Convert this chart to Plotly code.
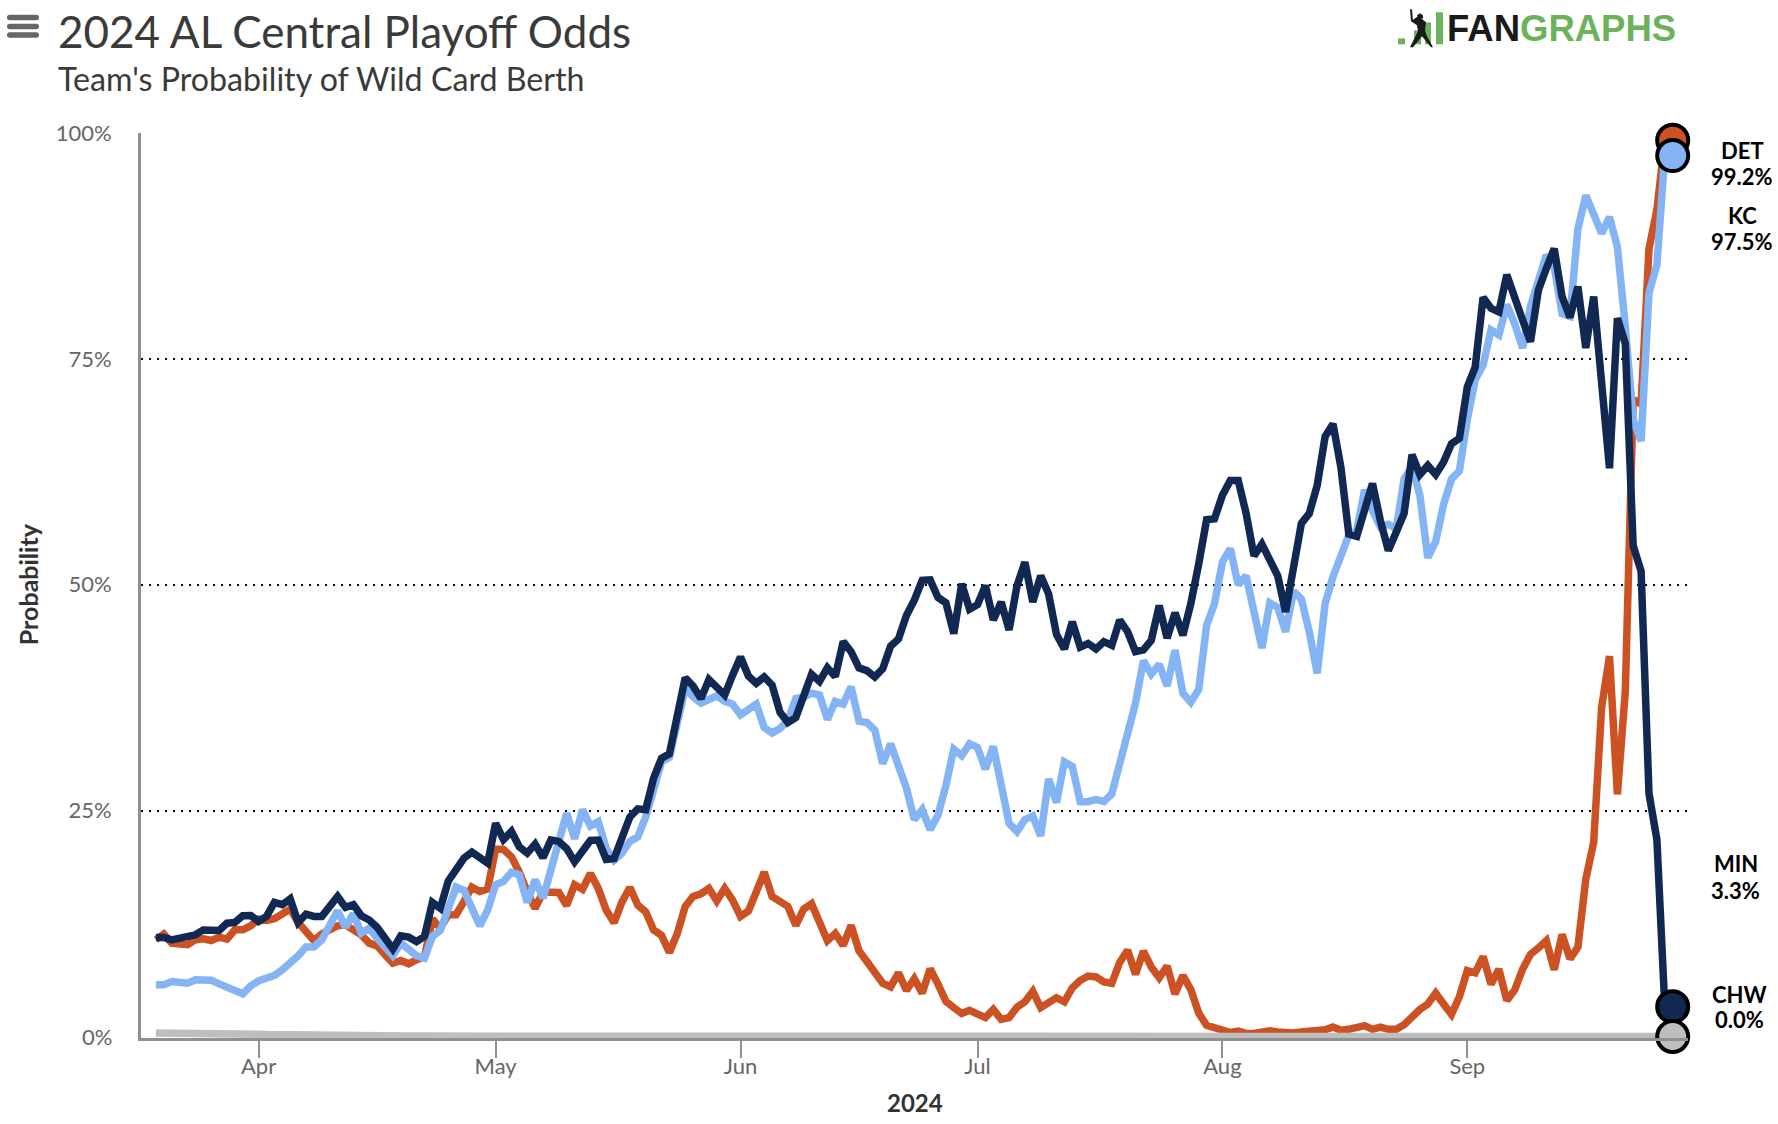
import pandas as pd
import plotly.graph_objects as go

START_DATE = "2024-03-19"
AXIS_RANGE = ["2024-03-17 02:44", "2024-09-28 22:30"]
MONTH_TICKS = ["2024-04-01", "2024-05-01", "2024-06-01", "2024-07-01", "2024-08-01", "2024-09-01"]
MONTH_LABELS = ["Apr", "May", "Jun", "Jul", "Aug", "Sep"]
PCT_TICKS = [25, 50, 75, 100]
PCT_LABELS = ["25%", "50%", "75%", "100%"]

DET = [10.71,11.34,10.34,10.34,10.16,10.71,10.82,10.63,11.0,10.78,
       11.82,11.82,12.26,13.0,12.85,13.04,13.55,14.1,12.63,11.74,
       10.63,11.37,11.82,12.26,12.37,11.82,11.26,10.34,10.04,9.05,
       8.12,8.42,8.05,8.5,8.86,13.0,12.0,13.48,13.48,14.96,
       16.54,16.06,16.32,20.75,
       20.7,19.9,18.2,16.0,14.2,16.0,15.95,15.95,14.5,16.8,16.3,18.05,16.4,14.0,12.6,14.9,
       16.5,14.55,13.8,11.8,11.2,9.3,11.4,14.4,15.5,15.8,16.4,15.0,16.4,15.1,13.3,13.9,
       16.0,18.2,15.5,15.0,14.4,12.3,14.1,14.7,12.5,10.6,11.4,10.1,12.3,9.5,8.3,7.0,
       5.9,5.5,7.05,5.1,6.4,4.8,7.5,5.8,3.9,3.2,2.55,2.9,2.5,2.1,3.0,1.9,2.1,3.25,3.85,5.0,
       3.2,3.7,4.3,3.85,5.4,6.2,6.7,6.6,6.05,5.9,8.2,9.55,6.9,9.45,7.7,6.5,7.8,4.7,6.75,5.2,
       2.6,1.25,0.96,
       0.6,0.45,0.6,0.35,0.35,0.5,0.65,0.5,
       0.4,0.4,0.5,0.55,0.7,0.75,1.05,0.7,0.8,1.05,1.2,0.8,1.05,0.8,0.8,1.3,2.25,3.0,3.6,4.8,
       3.6,2.45,4.4,7.3,7.05,8.85,5.8,7.45,4.0,5.15,7.45,9.1,9.8,10.6,7.4,11.3,8.6,9.9,17.4,21.5,
       36.4,42.1,26.8,38.2,70.5,70.0,87.2,91.5,99.2,99.2]

KC = [5.72,5.72,6.09,5.9,5.9,6.28,6.17,6.24,5.83,5.47,
      5.17,4.73,5.61,6.17,6.46,6.76,7.39,8.12,8.94,9.9,
      9.9,10.7,12.19,13.92,12.11,13.6,11.45,12.0,10.89,9.79,
      8.94,10.34,9.6,8.94,8.68,11.08,11.74,14.03,16.54,16.17,
      14.22,12.26,14.03,16.8,
      17.17,18.17,17.9,14.84,17.36,15.32,18.46,21.8,
      24.7,21.9,25.1,23.3,23.8,20.8,19.5,20.3,21.6,22.1,24.3,27.3,30.4,30.9,35.0,38.55,37.6,36.9,
      37.3,37.7,37.1,36.8,35.6,36.3,36.8,34.2,33.6,34.1,35.0,37.4,37.55,38.0,37.8,35.1,37.1,36.8,38.7,34.9,
      34.75,33.9,
      30.2,32.4,30.2,27.5,24.0,25.1,22.9,24.5,27.8,31.8,31.1,32.4,32.0,29.6,32.1,27.8,23.6,22.7,24.0,24.4,
      22.2,28.5,25.9,30.4,29.9,26.0,26.0,26.25,26.0,26.85,30.2,34.1,36.9,41.6,40.1,41.2,38.8,42.75,38.0,37.0,
      38.4,45.5,47.9,
      52.5,54.0,50.0,51.0,47.0,43.0,48.0,47.5,44.8,49.3,
      48.4,44.8,40.2,47.9,50.9,53.5,55.5,56.0,60.5,58.2,56.4,56.7,56.2,61.7,63.1,59.9,53.0,54.8,58.9,61.7,62.6,
      68.3,72.7,74.3,78.2,77.65,81.0,78.9,76.2,80.8,83.9,86.5,85.2,80.0,79.7,89.4,93.1,91.1,88.9,90.7,87.4,
      78.6,68.3,65.9,82.3,85.4,97.5,97.5]

MIN = [10.97,10.97,10.7,10.86,11.0,11.26,11.8,11.85,11.74,12.55,
       12.63,13.37,13.4,12.74,13.3,14.84,14.6,15.25,12.63,13.55,
       13.3,13.3,14.5,15.5,14.3,14.6,13.37,12.9,12.1,10.8,
       9.7,11.15,11.0,10.5,11.1,14.84,14.2,17.2,18.65,19.75,
       20.4,19.75,19.2,23.6,
       21.8,22.7,21.0,20.3,21.3,19.8,21.75,21.6,20.8,19.35,20.5,21.7,21.75,19.6,19.7,22.1,
       24.3,25.2,25.1,28.6,30.8,31.3,35.6,39.7,38.8,37.4,39.5,38.55,37.8,40.0,42.0,39.9,
       39.1,39.8,38.9,35.9,34.75,35.3,37.8,40.1,39.3,40.8,39.85,43.7,42.6,40.8,40.5,39.8,
       40.7,43.2,44.0,46.6,48.3,50.5,50.55,48.6,48.0,44.6,50.1,47.3,47.8,49.9,46.1,48.1,45.0,49.9,52.5,48.1,
       51.0,49.0,44.5,42.9,45.9,43.1,43.5,42.9,43.7,43.3,46.1,44.8,42.6,42.8,43.85,47.7,44.1,46.9,44.4,47.9,52.3,
       57.2,57.3,59.9,61.55,61.55,57.9,53.2,54.5,52.8,51.0,47.0,51.5,
       56.8,57.9,61.0,66.4,67.8,63.0,55.6,55.35,58.2,61.2,57.1,53.8,55.8,57.9,64.4,62.2,63.2,62.2,63.6,65.6,66.2,
       71.9,74.1,81.8,80.6,80.2,84.3,81.5,79.3,76.9,82.6,85.0,87.2,81.9,79.6,83.0,76.2,81.9,72.7,62.9,79.5,76.7,
       54.3,51.5,26.9,21.8,3.3,3.3]

CHW = [0.4,0.4,0.4,0.45,0.45,0.42,0.4,0.4,0.38,0.35,0.33,0.3,0.28,0.25,0.22,0.2,0.2,0.18,0.15,0.15,
       0.12,0.12,0.1,0.1,0.1,0.08,0.08,0.08,0.07,0.07,0.06,0.06,0.05,0.05,0.05,0.05,0.04,0.04,0.04,0.03,
       0.03,0.03,0.03,0.02,0.02,0.02,0.02,0.02,0.02,0.02,0.01,0.01,0.01,0.01,0.01,0.01,0.01,0.01,0.01,0.01,
       0.0,0.0,0.0,0.0,0.0,0.0,0.0,0.0,0.0,0.0,0.0,0.0,0.0,0.0,0.0,0.0,0.0,0.0,0.0,0.0,
       0.0,0.0,0.0,0.0,0.0,0.0,0.0,0.0,0.0,0.0,0.0,0.0,0.0,0.0,0.0,0.0,0.0,0.0,0.0,0.0,
       0.0,0.0,0.0,0.0,0.0,0.0,0.0,0.0,0.0,0.0,0.0,0.0,0.0,0.0,0.0,0.0,0.0,0.0,0.0,0.0,
       0.0,0.0,0.0,0.0,0.0,0.0,0.0,0.0,0.0,0.0,0.0,0.0,0.0,0.0,0.0,0.0,0.0,0.0,0.0,0.0,
       0.0,0.0,0.0,0.0,0.0,0.0,0.0,0.0,0.0,0.0,0.0,0.0,0.0,0.0,0.0,0.0,0.0,0.0,0.0,0.0,
       0.0,0.0,0.0,0.0,0.0,0.0,0.0,0.0,0.0,0.0,0.0,0.0,0.0,0.0,0.0,0.0,0.0,0.0,0.0,0.0,
       0.0,0.0,0.0,0.0,0.0,0.0,0.0,0.0,0.0,0.0,0.0,0.0,0.0]

dates = [d.strftime("%Y-%m-%d") for d in pd.date_range(START_DATE, periods=len(MIN))]
dates_for = lambda s: dates[:len(s)]

COLORS = {"DET": "#CC5224", "KC": "#84B4F4", "MIN": "#112853", "CHW": "#BEBEBE"}
SERIES = [("DET", DET), ("KC", KC), ("MIN", MIN), ("CHW", CHW)]
FONT = "Lato"
W, H = 1778, 1124
L, R, T, B = 141, 1688, 132.7, 1038

def px(x):
    return (x - L) / (R - L)

def py(y):
    return (B - y) / (B - T)

fig = go.Figure()
for name, vals in SERIES:
    fig.add_trace(go.Scatter(x=dates_for(vals), y=vals, mode="lines", name=name,
                             line=dict(color=COLORS[name], width=7.5), showlegend=False,
                             hoverinfo="x+y"))
for name, vals in SERIES:
    fig.add_trace(go.Scatter(x=[dates_for(vals)[-1]], y=[vals[-1]], mode="markers", name=name,
                             marker=dict(color=COLORS[name], size=31, line=dict(color="#000000", width=4)),
                             cliponaxis=False, showlegend=False, hoverinfo="x+y"))

annotations = []

def text(x, y, s, size, color="#000000", anchor="left", angle=0, family=FONT):
    annotations.append(dict(xref="paper", yref="paper", x=px(x), y=py(y), text=s, showarrow=False,
                            xanchor=anchor, yanchor="middle", textangle=angle, align="center",
                            font=dict(family=family, size=size, color=color)))

text(55.5, 31, "2024 AL Central Playoff Odds", 44, "#3a3a3a")
text(55.5, 78, "Team's Probability of Wild Card Berth", 32.2, "#3a3a3a")
text(1445, 28, "<b>FAN</b><b style='color:#6AB35A'>GRAPHS</b>", 36.5, "#1a1a1a", family="Liberation Sans")
text(28, 584, "<b>Probability</b>", 25, "#333333", "center", -90)
text(915, 1103, "<b>2024</b>", 24, "#333333", "center")
text(113.5, 1036, "0%", 22, "#666666", "right")
text(1742, 150, "<b>DET</b>", 22, "#000000", "center")
text(1742, 176, "<b>99.2%</b>", 22, "#000000", "center")
text(1742, 215.5, "<b>KC</b>", 22, "#000000", "center")
text(1742, 241.5, "<b>97.5%</b>", 22, "#000000", "center")
text(1736, 863.5, "<b>MIN</b>", 22, "#000000", "center")
text(1736, 890, "<b>3.3%</b>", 22, "#000000", "center")
text(1739, 994.5, "<b>CHW</b>", 22, "#000000", "center")
text(1739, 1019.5, "<b>0.0%</b>", 22, "#000000", "center")

shapes = []

def poly(points, color):
    path = "M " + " L ".join(f"{px(x):.5f} {py(y):.5f}" for x, y in points) + " Z"
    shapes.append(dict(type="path", xref="paper", yref="paper", path=path,
                       fillcolor=color, line=dict(width=0), layer="above"))

def bar(x0, y0, x1, y1, color):
    poly([(x0, y0), (x1, y0), (x1, y1), (x0, y1)], color)

def rounded(x0, y0, x1, y1, color):
    r = (y1 - y0) / 2
    n = lambda x, y: f"{px(x):.5f} {py(y):.5f}"
    path = (f"M {n(x0 + r, y0)} L {n(x1 - r, y0)} Q {n(x1, y0)} {n(x1, y0 + r)} "
            f"Q {n(x1, y1)} {n(x1 - r, y1)} L {n(x0 + r, y1)} "
            f"Q {n(x0, y1)} {n(x0, y0 + r)} Q {n(x0, y0)} {n(x0 + r, y0)} Z")
    shapes.append(dict(type="path", xref="paper", yref="paper", path=path,
                       fillcolor=color, line=dict(width=0), layer="above"))

rounded(7, 14.5, 39, 20, "#666666")
rounded(7, 23.5, 39, 29, "#666666")
rounded(7, 32, 39, 37.5, "#666666")

green = "#6AB35A"
bar(1398, 38, 1405, 44, green)
bar(1414, 30, 1421, 44, green)
bar(1425, 22, 1431, 44, green)
bar(1436, 12, 1443, 44, green)
# batter silhouette
poly([(1410, 9), (1412, 9), (1413, 21), (1411, 21)], "#1a1a1a")
poly([(1411, 21), (1418, 16), (1421, 18), (1426, 22), (1425, 30), (1427, 36), (1433, 47), (1431, 47),
      (1422, 36), (1413, 47), (1410, 47), (1418, 31), (1417, 25)], "#1a1a1a")
poly([(1417, 15), (1420, 13), (1423, 15), (1423, 18), (1419, 19)], "#1a1a1a")

fig.update_layout(
    width=W, height=H, autosize=False,
    margin=dict(l=L, r=W - R, t=T, b=H - B, pad=0),
    paper_bgcolor="#ffffff", plot_bgcolor="#ffffff",
    showlegend=False, annotations=annotations, shapes=shapes,
    font=dict(family=FONT),
    xaxis=dict(type="date", range=AXIS_RANGE, tickmode="array", tickvals=MONTH_TICKS, ticktext=MONTH_LABELS,
               showgrid=False, zeroline=False, showline=True, linecolor="#909090", linewidth=3,
               ticks="outside", ticklen=17, tickwidth=2, tickcolor="#909090", ticklabelstandoff=-10,
               tickfont=dict(family=FONT, size=22, color="#666666")),
    yaxis=dict(range=[-0.16, 100], tickmode="array", tickvals=PCT_TICKS, ticktext=PCT_LABELS,
               showgrid=True, gridcolor="#000000", gridwidth=2, griddash="2px,6px", zeroline=False,
               showline=True, linecolor="#909090", linewidth=3, ticks="", ticklabelstandoff=22,
               tickfont=dict(family=FONT, size=22, color="#666666")),
)

fig.write_html("out.html", config={"displayModeBar": False}, post_script="document.body.style.margin='0';")
